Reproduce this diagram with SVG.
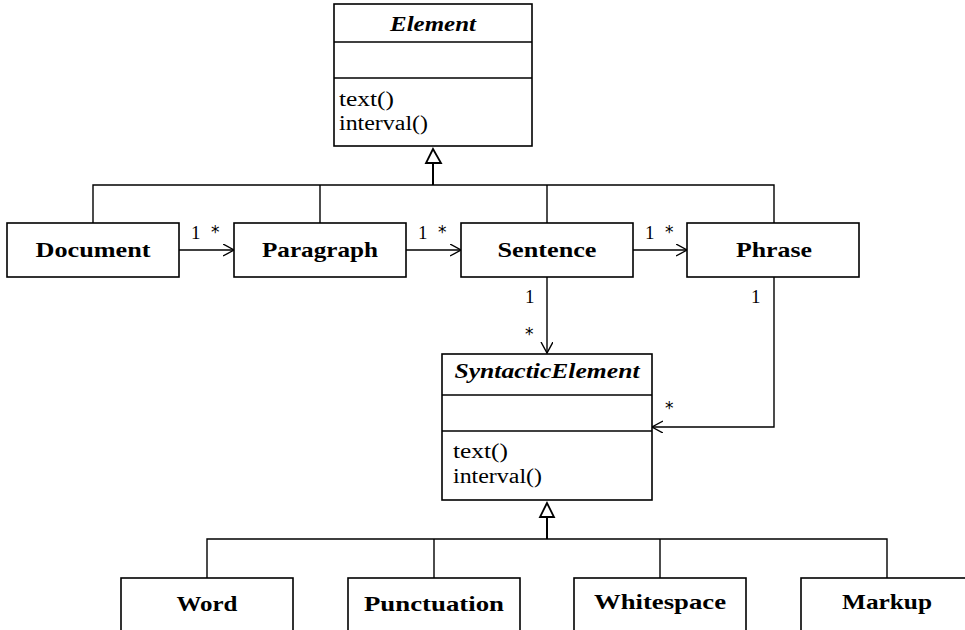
<svg xmlns="http://www.w3.org/2000/svg" width="965" height="630" viewBox="0 0 965 630">
<style>
  .box { fill: #fff; stroke: #000; stroke-width: 1.6; }
  .div { stroke: #000; stroke-width: 1.4; }
  .line { fill: none; stroke: #000; stroke-width: 1.4; }
  .stem { fill: none; stroke: #000; stroke-width: 2; }
  .tri { fill: #fff; stroke: #000; stroke-width: 1.8; }
  .name { font-family: "Liberation Serif", "DejaVu Serif", serif; font-weight: bold; font-size: 21px; text-anchor: middle; fill: #000; }
  .abs { font-style: italic; }
  .op { font-family: "Liberation Serif", "DejaVu Serif", serif; font-size: 20px; fill: #000; }
  .lbl { font-family: "Liberation Serif", "DejaVu Serif", serif; font-size: 19px; fill: #000; }
  .ast { font-family: "DejaVu Sans", sans-serif; font-size: 17px; fill: #000; }
</style>
<defs>
  <marker id="open" markerUnits="userSpaceOnUse" markerWidth="14" markerHeight="14" refX="11" refY="6" orient="auto">
    <path d="M0,0 L11,6 L0,12" fill="none" stroke="#000" stroke-width="1.4"/>
  </marker>
</defs>
<rect width="965" height="630" fill="#fff"/>

<g id="connectors">
  <!-- generalization to Element -->
  <path class="line" d="M93,223 V185 H774 V223"/>
  <path class="line" d="M320,223 V185"/>
  <path class="line" d="M547,223 V185"/>
  <path class="stem" d="M433,185 V163"/>
  <polygon class="tri" points="433,149 426,163 441,163"/>
  <!-- generalization to SyntacticElement -->
  <path class="line" d="M207,578 V539 H887 V578"/>
  <path class="line" d="M434,578 V539"/>
  <path class="line" d="M660,578 V539"/>
  <path class="stem" d="M547,539 V517"/>
  <polygon class="tri" points="547,503 540,517 554,517"/>
  <!-- associations -->
  <path class="line" d="M179,250 H234" marker-end="url(#open)"/>
  <path class="line" d="M406,250 H461" marker-end="url(#open)"/>
  <path class="line" d="M633,250 H687" marker-end="url(#open)"/>
  <path class="line" d="M547,277 V353" marker-end="url(#open)"/>
  <path class="line" d="M774,277 V427 H652" marker-end="url(#open)"/>
  <!-- multiplicities -->
  <text class="lbl" x="191" y="239">1</text>
  <text class="ast" x="211" y="238">*</text>
  <text class="lbl" x="418" y="239">1</text>
  <text class="ast" x="438" y="238">*</text>
  <text class="lbl" x="645" y="239">1</text>
  <text class="ast" x="665" y="238">*</text>
  <text class="lbl" x="525" y="303">1</text>
  <text class="ast" x="525" y="340">*</text>
  <text class="lbl" x="751" y="303">1</text>
  <text class="ast" x="665" y="414">*</text>
</g>

<g id="Element">
  <rect class="box" x="334" y="4" width="198" height="142"/>
  <line class="div" x1="334" y1="42" x2="532" y2="42"/>
  <line class="div" x1="334" y1="78" x2="532" y2="78"/>
  <text class="name abs" x="433" y="31" textLength="86" lengthAdjust="spacingAndGlyphs">Element</text>
  <text class="op" x="339" y="106" textLength="55" lengthAdjust="spacingAndGlyphs">text()</text>
  <text class="op" x="339" y="130" textLength="89" lengthAdjust="spacingAndGlyphs">interval()</text>
</g>

<g id="Document">
  <rect class="box" x="7" y="223" width="172" height="54"/>
  <text class="name" x="93" y="257" textLength="115" lengthAdjust="spacingAndGlyphs">Document</text>
</g>
<g id="Paragraph">
  <rect class="box" x="234" y="223" width="172" height="54"/>
  <text class="name" x="320" y="257" textLength="116" lengthAdjust="spacingAndGlyphs">Paragraph</text>
</g>
<g id="Sentence">
  <rect class="box" x="461" y="223" width="172" height="54"/>
  <text class="name" x="547" y="257" textLength="99" lengthAdjust="spacingAndGlyphs">Sentence</text>
</g>
<g id="Phrase">
  <rect class="box" x="687" y="223" width="172" height="54"/>
  <text class="name" x="774" y="257" textLength="76" lengthAdjust="spacingAndGlyphs">Phrase</text>
</g>

<g id="SyntacticElement">
  <rect class="box" x="442" y="354" width="210" height="146"/>
  <line class="div" x1="442" y1="395" x2="652" y2="395"/>
  <line class="div" x1="442" y1="431" x2="652" y2="431"/>
  <text class="name abs" x="547" y="378" textLength="185" lengthAdjust="spacingAndGlyphs">SyntacticElement</text>
  <text class="op" x="453" y="458" textLength="55" lengthAdjust="spacingAndGlyphs">text()</text>
  <text class="op" x="453" y="483" textLength="89" lengthAdjust="spacingAndGlyphs">interval()</text>
</g>

<g id="Word">
  <rect class="box" x="121" y="578" width="172" height="60"/>
  <text class="name" x="207" y="611" textLength="61" lengthAdjust="spacingAndGlyphs">Word</text>
</g>
<g id="Punctuation">
  <rect class="box" x="348" y="578" width="172" height="60"/>
  <text class="name" x="434" y="611" textLength="140" lengthAdjust="spacingAndGlyphs">Punctuation</text>
</g>
<g id="Whitespace">
  <rect class="box" x="574" y="578" width="172" height="60"/>
  <text class="name" x="660" y="609" textLength="132" lengthAdjust="spacingAndGlyphs">Whitespace</text>
</g>
<g id="Markup">
  <rect class="box" x="801" y="578" width="172" height="60"/>
  <text class="name" x="887" y="609" textLength="90" lengthAdjust="spacingAndGlyphs">Markup</text>
</g>
</svg>
